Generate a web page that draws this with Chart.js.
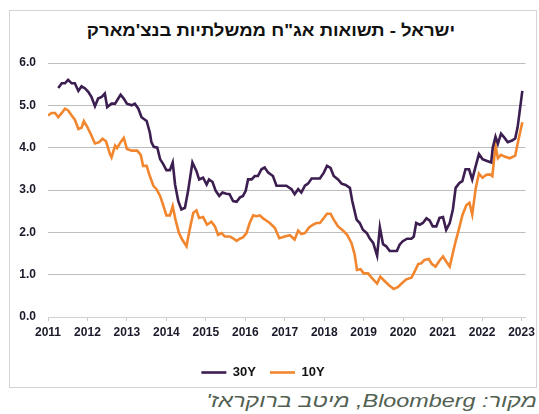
<!DOCTYPE html>
<html>
<head>
<meta charset="utf-8">
<script src="https://cdn.jsdelivr.net/npm/chart.js@4.4.1/dist/chart.umd.min.js"></script>
<style>
  html, body { margin:0; padding:0; background:#fff; }
  body { width:539px; height:414px; position:relative; overflow:hidden; font-family:"Liberation Sans", Arial, sans-serif; }
  #box { position:absolute; left:9px; top:10px; width:528px; height:378px; border:1px solid #d4d4d4; box-sizing:border-box; }
  #title { position:absolute; left:0; width:542px; top:21px; text-align:center; direction:rtl; font-size:17px; font-weight:bold; color:#111; transform:scaleX(1.09); transform-origin:271px 0; white-space:nowrap; }
  #src { position:absolute; right:2px; top:390px; direction:rtl; font-style:italic; font-size:19px; color:#526152; white-space:nowrap; transform:scaleX(1.23); transform-origin:right top; }
  #wrap { position:absolute; left:0; top:0; width:539px; height:390px; }
</style>
</head>
<body>
<div id="box"></div>
<div id="title">ישראל - תשואות אג"ח ממשלתיות בנצ'מארק</div>
<div id="wrap"><canvas id="c"></canvas></div>
<div id="src">מקור: Bloomberg, מיטב ברוקראז'</div>
<script>
const seriesNames = ["30Y", "10Y"];
const yTicks = [0, 1, 2, 3, 4, 5, 6];
const xYears = [2011,2012,2013,2014,2015,2016,2017,2018,2019,2020,2021,2022,2023];

const t30 = [2011.26,2011.35,2011.43,2011.51,2011.6,2011.68,2011.77,2011.85,2011.94,2012.02,2012.1,2012.19,2012.27,2012.36,2012.44,2012.5,2012.61,2012.7,2012.78,2012.84,2012.92,2013.0,2013.12,2013.2,2013.29,2013.37,2013.5,2013.58,2013.62,2013.68,2013.77,2013.84,2013.92,2014.0,2014.09,2014.16,2014.22,2014.3,2014.38,2014.47,2014.55,2014.66,2014.76,2014.83,2014.93,2015.02,2015.08,2015.17,2015.25,2015.34,2015.42,2015.52,2015.6,2015.69,2015.78,2015.86,2015.94,2016.01,2016.07,2016.16,2016.24,2016.32,2016.41,2016.49,2016.58,2016.70,2016.79,2016.92,2017.04,2017.17,2017.25,2017.34,2017.42,2017.51,2017.59,2017.68,2017.76,2017.89,2017.99,2018.07,2018.16,2018.24,2018.35,2018.44,2018.54,2018.65,2018.71,2018.82,2018.9,2018.98,2019.08,2019.15,2019.24,2019.34,2019.41,2019.49,2019.57,2019.66,2019.76,2019.84,2019.91,2019.99,2020.1,2020.21,2020.27,2020.33,2020.42,2020.5,2020.59,2020.67,2020.75,2020.84,2020.92,2021.01,2021.09,2021.18,2021.26,2021.33,2021.43,2021.5,2021.58,2021.67,2021.75,2021.84,2021.92,2022.01,2022.11,2022.23,2022.27,2022.34,2022.4,2022.48,2022.57,2022.65,2022.76,2022.84,2022.9,2023.02];
const v30 = [5.41,5.52,5.52,5.60,5.52,5.52,5.34,5.45,5.40,5.32,5.20,4.98,5.16,5.20,5.28,4.96,5.04,5.04,5.16,5.25,5.16,5.04,5.00,5.04,4.92,4.72,4.63,4.36,4.13,4.02,4.00,3.73,3.61,3.47,3.47,3.65,3.13,2.74,2.54,2.58,2.98,3.65,3.45,3.25,3.29,3.13,3.25,3.19,2.98,2.86,2.94,2.91,2.90,2.74,2.72,2.82,2.86,2.98,3.25,3.25,3.33,3.33,3.49,3.53,3.41,3.33,3.10,3.10,3.10,3.02,2.90,3.02,2.94,3.10,3.15,3.27,3.27,3.27,3.41,3.57,3.52,3.33,3.25,3.15,3.12,3.05,2.74,2.30,2.22,2.06,1.98,1.86,1.75,1.45,2.12,1.72,1.67,1.56,1.56,1.56,1.71,1.79,1.85,1.85,1.90,2.22,2.18,2.22,2.33,2.28,2.14,2.14,2.34,2.36,2.06,2.22,2.54,3.05,3.17,3.21,3.49,3.49,3.25,3.57,3.85,3.73,3.69,3.65,4.00,4.26,4.09,4.33,4.23,4.13,4.17,4.22,4.48,5.34];

const t10 = [2011.0,2011.09,2011.18,2011.26,2011.35,2011.43,2011.51,2011.6,2011.68,2011.77,2011.85,2011.91,2011.99,2012.08,2012.19,2012.3,2012.38,2012.47,2012.57,2012.61,2012.7,2012.75,2012.84,2012.92,2013.0,2013.12,2013.26,2013.35,2013.41,2013.5,2013.58,2013.67,2013.75,2013.84,2013.92,2014.0,2014.09,2014.16,2014.23,2014.32,2014.4,2014.51,2014.58,2014.68,2014.76,2014.83,2014.93,2015.03,2015.14,2015.23,2015.31,2015.4,2015.48,2015.61,2015.69,2015.78,2015.86,2015.94,2016.03,2016.11,2016.2,2016.28,2016.37,2016.45,2016.53,2016.62,2016.75,2016.86,2017.0,2017.13,2017.25,2017.34,2017.42,2017.51,2017.62,2017.72,2017.8,2017.89,2017.99,2018.07,2018.16,2018.24,2018.35,2018.48,2018.58,2018.69,2018.77,2018.83,2018.92,2019.0,2019.11,2019.2,2019.28,2019.34,2019.42,2019.53,2019.64,2019.76,2019.87,2019.98,2020.08,2020.21,2020.29,2020.38,2020.46,2020.54,2020.65,2020.73,2020.82,2020.92,2021.01,2021.09,2021.18,2021.26,2021.33,2021.42,2021.5,2021.6,2021.68,2021.75,2021.84,2021.92,2022.01,2022.11,2022.2,2022.26,2022.34,2022.4,2022.48,2022.57,2022.7,2022.84,2022.9,2023.02];
const v10 = [4.76,4.82,4.82,4.72,4.82,4.92,4.88,4.76,4.66,4.44,4.47,4.63,4.50,4.33,4.10,4.13,4.21,4.15,3.85,3.77,4.05,3.99,4.13,4.23,3.97,3.93,3.93,3.83,3.57,3.57,3.33,3.10,3.02,2.86,2.64,2.40,2.40,2.62,2.30,1.98,1.83,1.67,2.02,2.46,2.52,2.34,2.36,2.18,2.25,2.14,1.94,1.98,1.90,1.90,1.86,1.80,1.85,1.88,1.98,2.22,2.40,2.38,2.40,2.33,2.28,2.22,2.10,1.86,1.90,1.93,1.83,2.04,1.96,1.98,2.12,2.18,2.22,2.22,2.34,2.44,2.44,2.30,2.14,2.04,1.94,1.75,1.48,1.11,1.13,1.03,1.03,0.93,0.85,0.79,0.95,0.85,0.75,0.66,0.71,0.81,0.89,0.93,1.07,1.25,1.27,1.35,1.37,1.25,1.19,1.33,1.43,1.31,1.19,1.51,1.79,2.10,2.40,2.64,2.70,2.42,3.05,3.39,3.29,3.36,3.37,3.33,4.05,3.75,3.83,3.79,3.75,3.81,4.09,4.60];

const toPoints = (ts, vs) => ts.map((t, i) => ({ x: t, y: vs[i] }));

const tickFont = { family: "'Liberation Sans', Arial, sans-serif", size: 12, weight: 'bold' };

new Chart(document.getElementById('c'), {
  type: 'line',
  data: {
    datasets: [
      { label: seriesNames[0], data: toPoints(t30, v30), borderColor: '#3c1e50', backgroundColor: '#3c1e50', borderWidth: 2.6, pointRadius: 0, tension: 0 },
      { label: seriesNames[1], data: toPoints(t10, v10), borderColor: '#f2862e', backgroundColor: '#f2862e', borderWidth: 2.6, pointRadius: 0, tension: 0 }
    ]
  },
  options: {
    responsive: true,
    maintainAspectRatio: false,
    animation: false,
    layout: { padding: { left: 0, right: 13, top: 63, bottom: 1 } },
    plugins: {
      tooltip: { enabled: false },
      legend: {
        position: 'bottom',
        labels: {
          usePointStyle: true, pointStyle: 'line', pointStyleWidth: 25,
          color: '#111', font: { family: "'Liberation Sans', Arial, sans-serif", size: 13, weight: 'bold' },
          padding: 14
        }
      }
    },
    scales: {
      x: {
        type: 'linear', min: 2011, max: 2023.1,
        afterBuildTicks: (s) => { s.ticks = xYears.map(v => ({ value: v })); },
        ticks: { callback: v => String(v), color: '#1a1a2a', font: tickFont, padding: 4, maxRotation: 0, autoSkip: false },
        grid: { drawOnChartArea: false, drawTicks: true, tickLength: 4, color: '#c8c8c8' },
        border: { display: true, color: '#d0d0d0' },
        afterFit: (s) => { s.height = 35; }
      },
      y: {
        min: 0, max: 6,
        afterBuildTicks: (s) => { s.ticks = yTicks.map(v => ({ value: v })); },
        ticks: { callback: v => Number(v).toFixed(1), color: '#1a1a2a', font: tickFont, padding: 12 },
        grid: { drawTicks: false, color: '#bdbdbd', lineWidth: 1 },
        border: { display: false },
        afterFit: (s) => { s.width = 48; }
      }
    }
  }
});
</script>
</body>
</html>
